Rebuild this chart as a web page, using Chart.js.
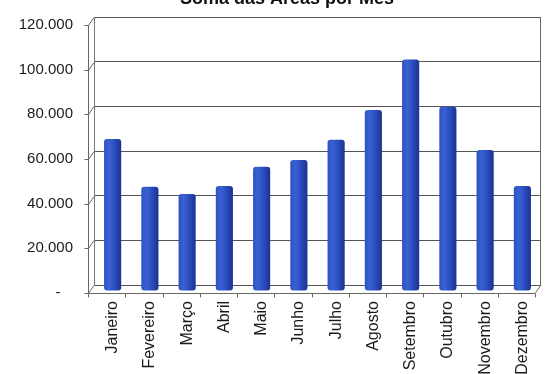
<!DOCTYPE html>
<html>
<head>
<meta charset="utf-8">
<script src="https://cdn.jsdelivr.net/npm/chart.js@4.4.0/dist/chart.umd.min.js"></script>
<style>
  html, body { margin: 0; padding: 0; background: #fff; overflow: hidden; }
  #wrap { position: relative; width: 547px; height: 374px; overflow: hidden; }
  #titulo {
    position: absolute; left: 0; top: -12px; width: 574px;
    text-align: center; line-height: 20px; color: #111;
    font: bold 18px "Liberation Sans", Arial, sans-serif;
  }
  canvas { position: absolute; left: 0; top: 0; }
</style>
</head>
<body>
<div id="wrap">
  <canvas id="areaChart" width="547" height="374"></canvas>
  <div id="titulo">Soma das Áreas por Mês</div>
</div>
<script>
const meses = ["Janeiro", "Fevereiro", "Março", "Abril", "Maio", "Junho",
               "Julho", "Agosto", "Setembro", "Outubro", "Novembro", "Dezembro"];
const somaAreas = [65400, 44000, 40800, 44300, 53000, 56000,
                   65000, 78400, 101000, 79800, 60500, 44300];
const eixoMin = 0;
const eixoMax = 120000;
const eixoPasso = 20000;

const larguraBarra = 0.46;
const fonte = '"Liberation Sans", Arial, sans-serif';

function formatar(v) {
    if (v === 0) return "-   ";
    return String(v).replace(/\B(?=(\d{3})+(?!\d))/g, ".");
}

// gradiente horizontal em cada coluna, para dar volume
function corBarra(c) {
    const chart = c.chart;
    const area = chart.chartArea;
    if (!area || !chart.scales.x) return "#2a4cbc";
    const x = chart.scales.x.getPixelForValue(c.dataIndex);
    const w = area.width / meses.length * larguraBarra;
    const g = chart.ctx.createLinearGradient(x - w / 2, 0, x + w / 2, 0);
    g.addColorStop(0, "#2d52c4");
    g.addColorStop(0.3, "#3a61d4");
    g.addColorStop(0.7, "#2747b6");
    g.addColorStop(1, "#1a3390");
    return g;
}

// eixo frontal, parede lateral e piso em perspectiva
const paredes = {
    id: "paredes",
    beforeDatasetsDraw(chart) {
        const { ctx, chartArea: a, scales: { y } } = chart;
        const dx = 6, dy = 8;
        const fx = Math.round(a.left - dx) + 0.5;
        ctx.save();
        ctx.strokeStyle = "#666";
        ctx.lineWidth = 1;
        ctx.beginPath();
        ctx.moveTo(fx, y.getPixelForValue(eixoMax) + dy);
        ctx.lineTo(fx, y.getPixelForValue(eixoMin) + dy);
        y.ticks.forEach(t => {
            const py = Math.round(y.getPixelForValue(t.value)) + 0.5;
            ctx.moveTo(fx - 4, py + dy);
            ctx.lineTo(fx, py + dy);
            ctx.lineTo(a.left, py);
        });
        const fy = Math.round(a.bottom + dy) + 0.5;
        ctx.moveTo(fx, fy);
        ctx.lineTo(a.right - dx, fy);
        ctx.lineTo(a.right, a.bottom);
        ctx.moveTo(Math.round(a.right) - 0.5, a.top);
        ctx.lineTo(Math.round(a.right) - 0.5, a.bottom);
        const passo = a.width / meses.length;
        for (let i = 0; i <= meses.length; i++) {
            const px = Math.round(a.left + i * passo - dx) + 0.5;
            ctx.moveTo(px, fy);
            ctx.lineTo(px, fy + 4);
        }
        ctx.stroke();
        ctx.restore();
    }
};

new Chart(document.getElementById("areaChart"), {
    type: "bar",
    data: {
        labels: meses,
        datasets: [{
            label: "Soma das Áreas",
            data: somaAreas,
            backgroundColor: corBarra,
            borderRadius: 3,
            borderSkipped: false,
            barPercentage: larguraBarra,
            categoryPercentage: 1,
            base: -2500,   // a coluna desce até a frente do piso
            clip: false
        }]
    },
    options: {
        responsive: false,
        animation: false,
        devicePixelRatio: 1,
        layout: { padding: { top: 17, right: 6, bottom: 0, left: 0 } },
        plugins: {
            legend: { display: false },
            title: { display: false },
            tooltip: { enabled: false }
        },
        scales: {
            x: {
                afterFit: s => { s.height = 89; },
                grid: { display: false, drawTicks: true, tickLength: 16 },
                border: { display: false },
                ticks: {
                    autoSkip: false,
                    minRotation: 90,
                    maxRotation: 90,
                    padding: 0,
                    color: "#1a1a1a",
                    font: { family: fonte, size: 16 }
                }
            },
            y: {
                min: eixoMin,
                max: eixoMax,
                afterFit: s => { s.width = 94; },
                grid: { color: "#555", drawTicks: true, tickLength: 21, tickColor: "rgba(0,0,0,0)" },
                border: { display: true, color: "#777" },
                ticks: {
                    stepSize: eixoPasso,
                    padding: 0,
                    labelOffset: 8,
                    color: "#1a1a1a",
                    font: { family: fonte, size: 15 },
                    callback: v => formatar(v)
                }
            }
        }
    },
    plugins: [paredes]
});
</script>
</body>
</html>
